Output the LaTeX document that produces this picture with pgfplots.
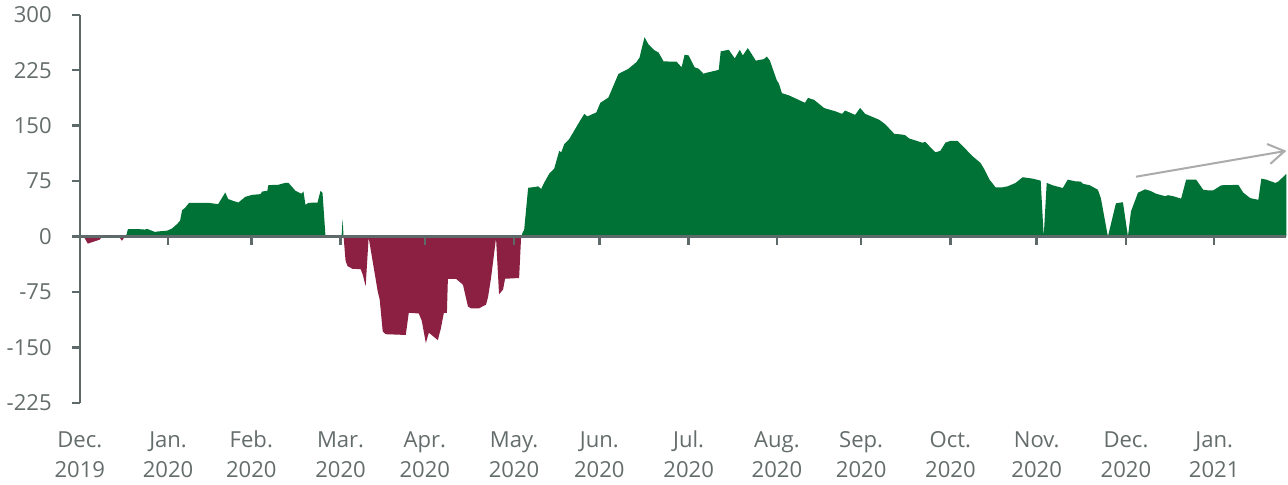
\documentclass[border=0pt]{standalone}
\usepackage{fontspec}
\setmainfont{Open Sans}
\usepackage{pgfplots}
\usepackage{pgfplotstable}
\pgfplotsset{compat=1.18}
\usetikzlibrary{arrows.meta}
\definecolor{pos}{HTML}{007236}
\definecolor{neg}{HTML}{8B2042}
\definecolor{axc}{HTML}{5E6A6A}
\definecolor{lab}{HTML}{646C6C}
\definecolor{arr}{HTML}{ABABAB}
\pgfplotstableread{
x y
84 0
88 -9.5
100 -4
102 0
119 0
122 -5.6
125 0
126 0
128 10
140 10
145 9.5
147 10.5
155 6.3
158 7
167 8
172 11
177 17
180 21.6
182 35.7
185 39
189 45.7
208 45.7
218 43.9
225 59.7
228 50.7
238 46
245 53.8
252 56.5
260 57.4
262 61
267 62
268 69.6
278 70.1
285 72.8
288 72.8
295 62
301 58
303 61
305 43
308 45.7
317 46
320 62
322 59
325 0
341 0
342 23.5
343 0
345 -33
347 -40
352 -43.6
360 -44
362 -51
365 -67
368 -1
377 -74
379 -85
382 -128
385 -132
405 -133
408 -103
418 -104
421 -114
425 -144
428 -130
437 -140
440 -124
443 -103
446 -103
447 -57
455 -57
462 -65
467 -94.5
470 -97
478 -97
485 -92
487 -82
490 -56
495 -2
498 -78
502 -71.5
504 -57
518 -56
520 0
522 7
523 8.6
527 66
533 67
537 68
540 64.5
543 73
548 85
553 92
558 116
560 114
563 125
568 132
578 155
583 166
586 162.5
595 168
599 181
607 188
617 220
627 227
635 236
638 242
643 269.6
647 260
653 252
657 249
662 237
675 236.5
680 229
683 246
687 245
693 229
697 227
702 220
703 221
717 225.5
719 250.5
727 252.7
733 241
738 252.7
741 245
746 255
754 238
762 240
765 243.5
768 238
775 211
777 207
780 194
787 191
803 181
806 187.6
812 185
822 174
825 172.7
833 169.6
840 166
843 170.5
853 164.6
858 174
863 166
877 158
883 152
892 139
900 138
903 137
907 132.7
920 127
923 128
933 114
938 116
943 127
948 129.5
955 129.5
962 120
970 108.8
978 99.7
982 90.6
987 77
993 66.7
1000 66.7
1005 68
1013 72.6
1020 80.3
1030 78.4
1038 75.7
1041 0
1044 72.6
1050 69.4
1060 65.7
1065 77
1072 74.9
1078 74.4
1080 71.5
1087 69.4
1095 63.4
1098 52
1105 0
1113 45
1120 46.5
1125 0
1128 34
1135 59.4
1142 63.9
1147 62
1153 58
1162 54.7
1165 56
1170 54.7
1178 51.3
1183 77
1193 77
1200 63.4
1205 62.5
1210 62.5
1218 69.4
1235 70
1240 59.4
1247 52
1255 49.8
1258 78.4
1263 77
1272 72.6
1275 74.6
1283 85
1283 0
}\data
\begin{document}
\begin{tikzpicture}
\begin{axis}[
  scale only axis, width=601.5pt, height=193.5pt,
  xmin=80, xmax=1283, ymin=-225, ymax=300,
  axis x line*=middle, axis y line*=left,
  hide obscured x ticks=false, hide obscured y ticks=false,
  axis line style={axc, line width=1.2pt},
  xtick={80,168,251,340,424,513,598,687,775,859,948,1034,1123,1211},
  xticklabels={{\strut Dec.\\2019},{\strut Jan.\\2020},{\strut Feb.\\2020},{\strut Mar.\\2020},{\strut Apr.\\2020},{\strut May.\\2020},{\strut Jun.\\2020},{\strut Jul.\\2020},{\strut Aug.\\2020},{\strut Sep.\\2020},{\strut Oct.\\2020},{\strut Nov.\\2020},{\strut Dec.\\2020},{\strut Jan.\\2021}},
  ytick={-225,-150,-75,0,75,150,225,300},
  yticklabels={-225,-150,-75,0,75,150,225,300},
  tick align=outside, major tick length=4pt,
  tick style={axc, line width=1.2pt},
  xticklabel style={align=center, yshift=-87pt, font=\fontsize{11}{15}\selectfont, text=lab},
  yticklabel style={xshift=-6.5pt, font=\fontsize{11}{15}\selectfont, text=lab},
  clip=false, axis on top,
]
\addplot[fill=pos, draw=none] table[x=x, y expr={max(\thisrow{y},0)}] {\data} \closedcycle;
\addplot[fill=neg, draw=none] table[x=x, y expr={min(\thisrow{y},0)}] {\data} \closedcycle;
\addplot[arr, line width=1pt, -{Straight Barb[length=8pt,width=10pt,line width=1pt]}] coordinates {(1133,81) (1283,116)};
\end{axis}
\end{tikzpicture}
\end{document}
